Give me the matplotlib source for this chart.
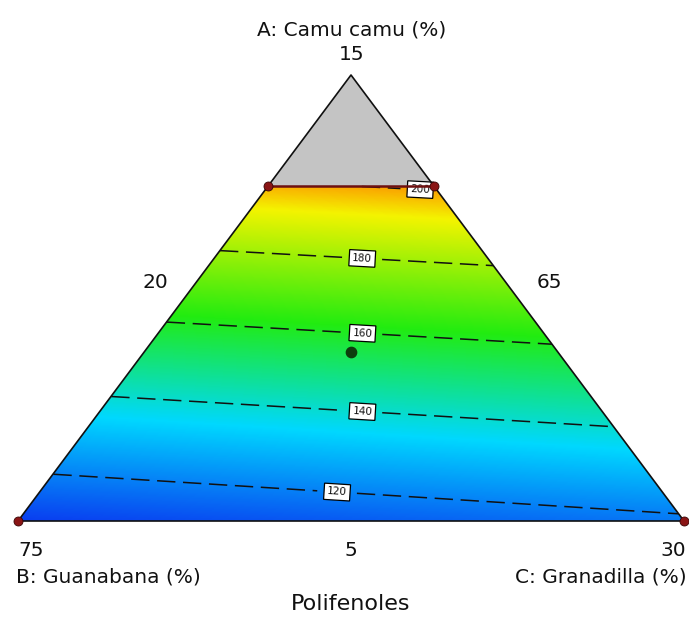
import matplotlib

matplotlib.use("Agg")
import matplotlib.pyplot as plt
import numpy as np
from matplotlib.colors import LinearSegmentedColormap
from matplotlib.patches import Polygon

# Scheffe quadratic mixture model (pseudo-components) for Polifenoles
beta_linear = {"A": 232.4, "B": 108.4, "C": 118.4}
beta_pairs = {"AB": -15.0, "AC": -15.0, "BC": 0.0}

contour_levels = [120, 140, 160, 180, 200]

# constraint on A (pseudo) that trims the top of the simplex
a_upper = 0.751

# design points in pseudo-components (a, b, c)
vertex_pts = np.array([
    [0.0, 1.0, 0.0],
    [0.0, 0.0, 1.0],
    [0.751, 0.249, 0.0],
    [0.751, 0.0, 0.249],
])
center_pt = np.array([[0.379, 0.3105, 0.3105]])

vertex_labels = {"A": "15", "B": "75", "C": "30"}
edge_labels = {"A": "5", "B": "65", "C": "20"}
axis_titles = {"A": "A: Camu camu (%)", "B": "B: Guanabana (%)", "C": "C: Granadilla (%)"}
response_name = "Polifenoles"

PAL = {
    "grey": "#c4c4c4",
    "edge": "#101010",
    "bound": "#6e1010",
    "dot": "#8a1515",
    "center": "#0d3d0d",
}

cmap = LinearSegmentedColormap.from_list(
    "de", [(0.0, "#0a3cf0"), (0.27, "#00d8ff"), (0.55, "#22ec10"),
           (0.86, "#f4f400"), (1.0, "#ff6a00")])


def to_xy(abc):
    abc = np.atleast_2d(abc)
    a, c = abc[:, 0], abc[:, 2]
    return c + a / 2.0, a


def response(a, b, c):
    return (beta_linear["A"] * a + beta_linear["B"] * b + beta_linear["C"] * c
            + beta_pairs["AB"] * a * b + beta_pairs["AC"] * a * c
            + beta_pairs["BC"] * b * c)


fig = plt.figure(figsize=(6.89, 6.19), dpi=100)
ax = fig.add_axes([18 / 689, 98 / 619, 666 / 689, 446 / 619])
ax.set_xlim(0, 1)
ax.set_ylim(0, 1)
ax.axis("off")

# response surface on a grid, masked to the feasible trapezoid
gx, gy = np.meshgrid(np.linspace(0, 1, 601), np.linspace(0, 1, 601))
ga = gy
gc = gx - gy / 2.0
gb = 1.0 - ga - gc
inside = (gb >= -1e-9) & (gc >= -1e-9) & (ga <= a_upper + 1e-9)
Z = np.where(inside, response(ga, gb, gc), np.nan)

half = a_upper / 2.0
trap = Polygon([(0, 0), (1, 0), (1 - half, a_upper), (half, a_upper)],
               closed=True, fc="none", ec="none")
ax.add_patch(trap)
img = ax.imshow(np.ma.masked_invalid(Z), origin="lower", extent=(0, 1, 0, 1),
                cmap=cmap, vmin=108, vmax=206, aspect="auto",
                interpolation="bilinear")
img.set_clip_path(trap)

# region cut off by the constraint
ax.add_patch(Polygon([(half, a_upper), (1 - half, a_upper), (0.5, 1.0)],
                     closed=True, fc=PAL["grey"], ec="none"))

cs = ax.contour(gx, gy, Z, levels=contour_levels, colors="#111111",
                linewidths=1.1, linestyles=[(0, (12, 5))])
lbl_pos = [(0.479, 0.063), (0.517, 0.244), (0.517, 0.417),
           (0.517, 0.592), (0.604, 0.745)]
texts = ax.clabel(cs, fmt="%d", fontsize=7.5, inline=True, inline_spacing=10,
                  manual=lbl_pos)
for t in texts:
    t.set_bbox(dict(boxstyle="square,pad=0.3", fc="white", ec="black", lw=0.9))

# simplex outline and constraint boundary
ax.plot([0, 1, 0.5, 0], [0, 0, 1, 0], color=PAL["edge"], lw=1.2,
        clip_on=False, zorder=5)
ax.plot([half, 1 - half], [a_upper, a_upper], color=PAL["bound"], lw=1.8,
        zorder=6)

vx, vy = to_xy(vertex_pts)
ax.scatter(vx, vy, s=42, color=PAL["dot"], edgecolor="#3a0505", lw=0.6,
           zorder=7, clip_on=False)
cx, cy = to_xy(center_pt)
ax.scatter(cx, cy, s=55, color=PAL["center"], zorder=7)

# axis labels in figure pixels
def ftext(px, py, s, **kw):
    fig.text(px / 689, 1 - py / 619, s, color="#111111", **kw)


fs = 14.5
ftext(352, 30, axis_titles["A"], fontsize=fs, ha="center", va="center")
ftext(352, 55, vertex_labels["A"], fontsize=fs, ha="center", va="center")
ftext(155, 283, edge_labels["C"], fontsize=fs, ha="center", va="center")
ftext(549, 283, edge_labels["B"], fontsize=fs, ha="center", va="center")
ftext(18, 551, vertex_labels["B"], fontsize=fs, ha="left", va="center")
ftext(351, 551, edge_labels["A"], fontsize=fs, ha="center", va="center")
ftext(686, 551, vertex_labels["C"], fontsize=fs, ha="right", va="center")
ftext(16, 577, axis_titles["B"], fontsize=fs, ha="left", va="center")
ftext(687, 577, axis_titles["C"], fontsize=fs, ha="right", va="center")
ftext(351, 604, response_name, fontsize=16, ha="center", va="center")

fig.savefig("out.png", dpi=100, facecolor="white")
